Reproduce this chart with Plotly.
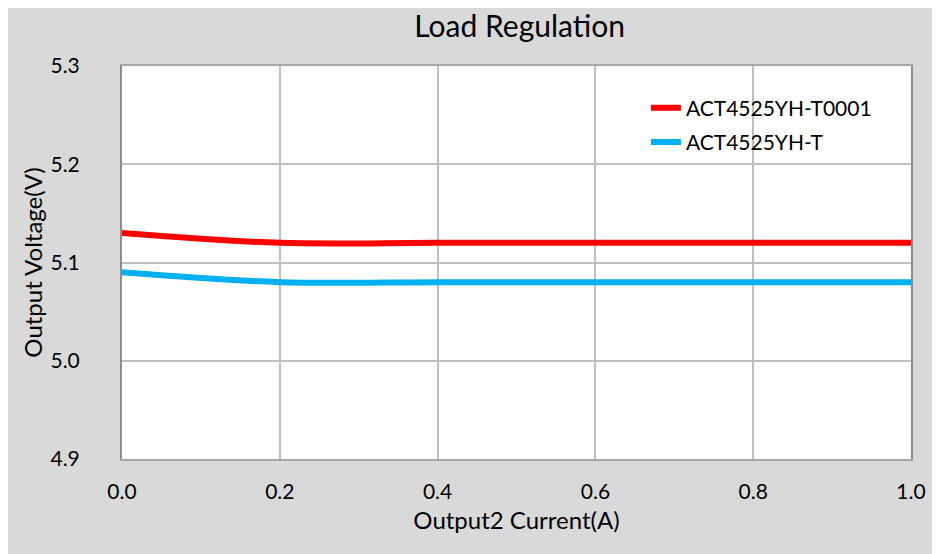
import plotly.graph_objects as go

current = [0.0, 0.2, 0.4, 0.6, 0.8, 1.0]
v_t0001 = [5.13, 5.12, 5.12, 5.12, 5.12, 5.12]
v_t = [5.09, 5.08, 5.08, 5.08, 5.08, 5.08]

x_ticks = [0.0, 0.2, 0.4, 0.6, 0.8, 1.0]
y_ticks = [4.9, 5.0, 5.1, 5.2, 5.3]

FONT = "Lato, 'Open Sans', sans-serif"

fig = go.Figure()

fig.add_trace(go.Scatter(
    x=current, y=v_t0001,
    mode="lines",
    name="ACT4525YH-T0001",
    legendgroup="a",
    line=dict(color="#ff0000", width=6, shape="spline", smoothing=1.0),
))

fig.add_trace(go.Scatter(
    x=current, y=v_t,
    mode="lines",
    name="ACT4525YH-T",
    legendgroup="b",
    line=dict(color="#00b0f0", width=6, shape="spline", smoothing=1.0),
))

# page body adds an 8px offset, so the figure is 932x546
fig.update_layout(
    width=932, height=546,
    margin=dict(l=114, r=29, t=58, b=95),
    paper_bgcolor="#d9d9d9",
    plot_bgcolor="white",
    font=dict(family=FONT, size=21, color="#000000"),
    title=dict(text="Load Regulation", x=0.504, xref="paper", xanchor="center",
               y=0.967, yanchor="middle", font=dict(size=30)),
    legend=dict(
        x=0.664, y=0.945, xanchor="left", yanchor="top",
        bgcolor="rgba(0,0,0,0)",
        traceorder="grouped", tracegroupgap=4,
        font=dict(size=21),
    ),
    showlegend=True,
)

fig.update_xaxes(
    range=[0, 1.0], tickvals=x_ticks, ticktext=[f"{v:.1f}" for v in x_ticks],
    showgrid=True, gridcolor="#bfbfbf", gridwidth=1.5,
    showline=True, linecolor="#a6a6a6", linewidth=2, mirror=True,
    ticks="", ticklabelstandoff=13, zeroline=False,
    title=dict(text="Output2 Current(A)", font=dict(size=24), standoff=10),
)

fig.update_yaxes(
    range=[4.9, 5.3], tickvals=y_ticks, ticktext=[f"{v:.1f}" for v in y_ticks],
    showgrid=True, gridcolor="#bfbfbf", gridwidth=1.5,
    showline=True, linecolor="#8c8c8c", linewidth=2, mirror=True,
    ticks="", ticklabelstandoff=36, zeroline=False,
    title=dict(text="Output Voltage(V)", font=dict(size=24), standoff=1),
)

fig.write_html("out.html")
